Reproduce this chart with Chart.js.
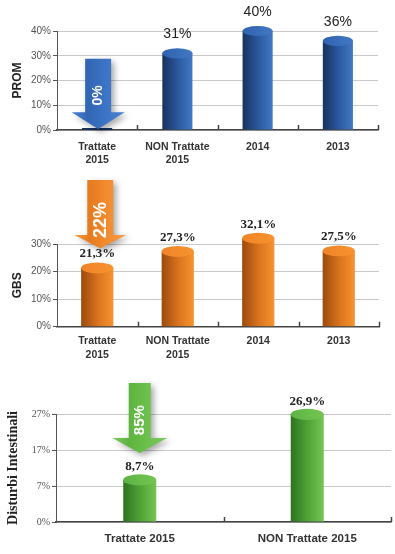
<!DOCTYPE html>
<html>
<head>
<meta charset="utf-8">
<script src="https://cdn.jsdelivr.net/npm/chart.js@4"></script>
<style>
  html, body { margin: 0; padding: 0; background: #fff; width: 395px; height: 554px; overflow: hidden; }
  canvas { position: absolute; left: 0; }
</style>
</head>
<body>
<canvas id="promChart" width="395" height="168" style="top:0"></canvas>
<canvas id="gbsChart" width="395" height="197" style="top:168px"></canvas>
<canvas id="intChart" width="395" height="189" style="top:365px"></canvas>
<script>
// PROM
const promLabels = [['Trattate', '2015'], ['NON Trattate', '2015'], '2014', '2013'];
const promValues = [0, 31, 40, 36];
const promTicks = [0, 10, 20, 30, 40];
const promTickLabels = ['0%', '10%', '20%', '30%', '40%'];
const promArrow = [28.8, 7.2, 0.4, 14];   // top, head start, tip, text centre (axis units)
const promArrowText = '0%';

// GBS
const gbsLabels = [['Trattate', '2015'], ['NON Trattate', '2015'], '2014', '2013'];
const gbsValues = [21.3, 27.3, 32.1, 27.5];
const gbsTicks = [0, 10, 20, 30];
const gbsTickLabels = ['0%', '10%', '20%', '30%'];
const gbsArrow = [53.2, 33.3, 28.5, 38.7];
const gbsArrowText = '22%';

// Disturbi Intestinali (the original axis starts at -3 and calls that line 0%)
const intLabels = ['Trattate 2015', 'NON Trattate 2015'];
const intValues = [8.7, 26.9];
const intTicks = [-3, 7, 17, 27];
const intTickLabels = ['0%', '7%', '17%', '27%'];
const intArrow = [35.6, 20.3, 16.2, 25.3];
const intArrowText = '85%';

const NARROW = "'Liberation Sans Narrow', 'Liberation Sans', Arial, sans-serif";
const SERIF = "'Liberation Serif', 'DejaVu Serif', serif";

// cylinder bars + value labels + small upward category ticks
const cylinders = {
  id: 'cylinders',
  afterDatasetsDraw(chart, args, o) {
    const c = chart.ctx;
    const a = chart.chartArea;
    const n = chart.data.labels.length;
    c.save();
    c.strokeStyle = '#444';
    c.lineWidth = 1.5;
    for (let i = 1; i <= n; i++) {
      const x = Math.round(a.left + (a.right - a.left) * i / n) + 0.5;
      c.beginPath(); c.moveTo(x, a.bottom); c.lineTo(x, a.bottom - 5); c.stroke();
    }
    const values = chart.data.datasets[0].data;
    chart.getDatasetMeta(0).data.forEach((bar, i) => {
      const w = bar.width, x0 = bar.x - w / 2, x1 = bar.x + w / 2;
      const top = bar.y, base = bar.base;
      if (base - top < 1) {
        c.fillStyle = o.dark;
        c.fillRect(x0, base - 2, w, 2);
        return;
      }
      const g = c.createLinearGradient(x0, 0, x1, 0);
      g.addColorStop(0, o.dark);
      g.addColorStop(0.55, o.mid);
      g.addColorStop(1, o.light);
      c.fillStyle = g;
      c.fillRect(x0, top, w, base - top);
      const ry = w * 0.17;
      const tg = c.createLinearGradient(x0, 0, x1, 0);
      tg.addColorStop(0, o.top);
      tg.addColorStop(1, o.light);
      c.beginPath();
      c.ellipse(bar.x, top, w / 2, ry, 0, 0, Math.PI * 2);
      c.fillStyle = tg;
      c.fill();
      // value label
      const v = values[i];
      if (v === 0) return;
      let s = v.toFixed(o.decimals);
      if (o.comma) s = s.replace('.', ',');
      c.fillStyle = '#222';
      c.font = o.labelFont;
      c.textAlign = 'center';
      c.textBaseline = 'middle';
      c.fillText(s + '%', bar.x, top - o.labelGap);
    });
    c.restore();
  }
};

// big "reduction" arrow over the first category
const arrow = {
  id: 'arrow',
  afterDraw(chart, args, o) {
    const c = chart.ctx, xs = chart.scales.x, ys = chart.scales.y;
    const cx = xs.getPixelForValue(0) + o.shift;
    const yTop = ys.getPixelForValue(o.at[0]);
    const yHead = ys.getPixelForValue(o.at[1]);
    const yTip = ys.getPixelForValue(o.at[2]);
    const s = o.shaft / 2, h = o.head / 2;
    c.save();
    c.shadowColor = 'rgba(0,0,0,0.35)';
    c.shadowBlur = 6;
    c.shadowOffsetX = 3;
    c.shadowOffsetY = 3;
    c.beginPath();
    c.moveTo(cx - s, yTop);
    c.lineTo(cx + s, yTop);
    c.lineTo(cx + s, yHead);
    c.lineTo(cx + h, yHead);
    c.lineTo(cx, yTip);
    c.lineTo(cx - h, yHead);
    c.lineTo(cx - s, yHead);
    c.closePath();
    const g = c.createLinearGradient(cx - h, 0, cx + h, 0);
    g.addColorStop(0, o.light);
    g.addColorStop(0.3, o.dark);
    g.addColorStop(0.6, o.color);
    g.addColorStop(1, o.light);
    c.fillStyle = g;
    c.fill();
    c.restore();
    c.save();
    c.translate(cx + o.textShift, ys.getPixelForValue(o.at[3]));
    c.rotate(-Math.PI / 2);
    c.fillStyle = '#fff';
    c.font = o.font;
    c.textAlign = 'center';
    c.textBaseline = 'middle';
    c.fillText(o.text, 0, 0);
    c.restore();
  }
};

function buildChart(id, cfg) {
  return new Chart(document.getElementById(id), {
    type: 'bar',
    data: {
      labels: cfg.labels,
      datasets: [{
        data: cfg.values,
        backgroundColor: 'rgba(0,0,0,0)',
        borderWidth: 0,
        base: cfg.base,
        categoryPercentage: 1,
        barPercentage: cfg.barPct
      }]
    },
    options: {
      responsive: false,
      animation: false,
      devicePixelRatio: 1,
      layout: { padding: cfg.padding },
      scales: {
        x: {
          grid: { display: true, drawOnChartArea: false, drawTicks: false },
          border: { color: '#444', width: 1.5 },
          ticks: { color: '#333', font: cfg.xFont, padding: cfg.xPad, maxRotation: 0, autoSkip: false },
          afterFit: sc => { sc.height = cfg.xHeight; }
        },
        y: {
          min: cfg.ticks[0],
          max: cfg.ticks[cfg.ticks.length - 1],
          afterBuildTicks: sc => { sc.ticks = cfg.ticks.map(v => ({ value: v })); },
          ticks: { color: '#555', font: cfg.yFont, padding: 2, callback: (v, i) => cfg.tickLabels[i] },
          grid: { color: '#c9c9c9', tickColor: '#555', tickLength: 4, lineWidth: 1 },
          border: { color: '#555', width: 1 },
          title: { display: true, text: cfg.title, color: '#222', font: cfg.titleFont, padding: { top: cfg.titlePad, bottom: 0 } },
          afterFit: sc => { sc.width = cfg.yWidth; }
        }
      },
      plugins: {
        legend: { display: false },
        tooltip: { enabled: false },
        cylinders: cfg.bars,
        arrow: cfg.arrow
      }
    },
    plugins: [cylinders, arrow]
  });
}

buildChart('promChart', {
  labels: promLabels, values: promValues, ticks: promTicks, tickLabels: promTickLabels,
  barPct: 0.375, padding: { top: 31, right: 17, bottom: 0, left: 0 },
  xHeight: 38, xPad: 10, yWidth: 57,
  xFont: { family: NARROW, size: 10.5, weight: 'bold', lineHeight: 1.3 },
  yFont: { family: NARROW, size: 10 },
  title: 'PROM', titleFont: { family: NARROW, size: 12, weight: 'bold' }, titlePad: 10,
  bars: { dark: '#17325e', mid: '#2c5aa2', light: '#4278c4', top: '#2f62b0', decimals: 0, comma: false,
          labelFont: "14px 'Liberation Sans', Arial, sans-serif", labelGap: 19 },
  arrow: { at: promArrow, text: promArrowText, shift: 1, textShift: 0, shaft: 26, head: 53,
           color: '#3b72c3', dark: '#3266b4', light: '#4a82d2', font: "bold 14px 'Liberation Sans', Arial, sans-serif" }
});

buildChart('gbsChart', {
  labels: gbsLabels, values: gbsValues, ticks: gbsTicks, tickLabels: gbsTickLabels,
  barPct: 0.4, padding: { top: 76, right: 16, bottom: 0, left: 0 },
  xHeight: 38.3, xPad: 7.5, yWidth: 57,
  xFont: { family: NARROW, size: 10.5, weight: 'bold', lineHeight: 1.3 },
  yFont: { family: NARROW, size: 10 },
  title: 'GBS', titleFont: { family: NARROW, size: 12, weight: 'bold' }, titlePad: 10,
  bars: { dark: '#9c4a0c', mid: '#dc7620', light: '#f7932f', top: '#f08428', decimals: 1, comma: true,
          labelFont: "bold 13px 'Liberation Serif', serif", labelGap: 14 },
  arrow: { at: gbsArrow, text: gbsArrowText, shift: 3, textShift: 1, shaft: 26, head: 52,
           color: '#f28a2e', dark: '#e67a1e', light: '#f79a44', font: "bold 18px 'Liberation Sans', Arial, sans-serif" }
});

buildChart('intChart', {
  labels: intLabels, values: intValues, ticks: intTicks, tickLabels: intTickLabels, base: -3,
  barPct: 0.197, padding: { top: 49, right: 4, bottom: 0, left: 0 },
  xHeight: 32, xPad: 9.8, yWidth: 56,
  xFont: { family: NARROW, size: 11.5, weight: 'bold', lineHeight: 1.2 },
  yFont: { family: SERIF, size: 10 },
  title: 'Disturbi Intestinali', titleFont: { family: SERIF, size: 14, weight: 'bold' }, titlePad: 4.6,
  bars: { dark: '#2c7420', mid: '#52a638', light: '#74c552', top: '#5cb443', decimals: 1, comma: true,
          labelFont: "bold 13px 'Liberation Serif', serif", labelGap: 13 },
  arrow: { at: intArrow, text: intArrowText, shift: 0, textShift: 0, shaft: 22, head: 55,
           color: '#6abf4b', dark: '#5fb440', light: '#7cca5e', font: "bold 15px 'Liberation Sans', Arial, sans-serif" }
});
</script>
</body>
</html>
